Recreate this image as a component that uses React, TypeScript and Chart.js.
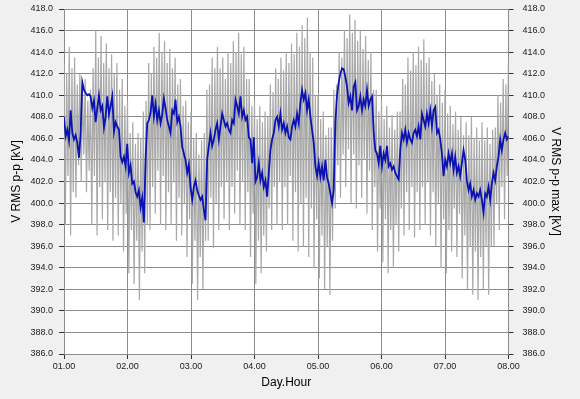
import React, { useEffect, useRef } from 'react';
import { Chart, registerables } from 'chart.js';

Chart.register(...registerables);

const xTickLabels = ['01.00', '02.00', '03.00', '04.00', '05.00', '06.00', '07.00', '08.00'];

// V RMS p-p (blue), evenly spaced from 01.00 to 08.00
const blueValues = [
  408.0, 406.2, 406.8, 405.8, 408.6, 406.5, 405.9, 406.3, 405.6, 404.2,
  406.5, 411.2, 410.5, 410.2, 410.0, 410.1, 409.9, 408.8, 409.5, 407.5,
  408.8, 410.0, 408.6, 409.0, 407.0, 408.0, 409.9, 408.2, 409.0, 409.9,
  406.6, 407.5, 407.1, 406.8, 404.3, 403.8, 404.3, 403.4, 405.5, 402.8,
  403.5, 401.8, 402.0, 401.0, 400.6, 401.2, 399.6, 400.5, 398.2, 404.0,
  407.4, 407.7, 408.4, 410.0, 408.0, 409.2, 407.7, 408.6, 407.4, 408.2,
  409.7, 408.8, 407.7, 407.1, 406.5, 408.6, 408.3, 409.6, 407.5, 408.0,
  407.1, 405.2, 404.6, 404.0, 402.8, 403.6, 401.5, 400.3, 401.5, 402.1,
  401.2, 400.7, 400.3,
  400.6, 399.4, 398.4, 404.0, 405.3, 406.5, 405.3, 405.9, 406.8, 407.4,
  405.9, 407.1, 408.3, 407.7, 407.1, 407.4, 406.8, 406.5, 407.7, 407.4,
  409.6, 409.0, 408.3, 409.9, 408.0, 408.6, 407.7, 408.0, 406.1, 405.9,
  403.7, 406.1, 402.0, 402.4, 403.7, 402.1, 402.8, 401.5, 402.1, 400.6,
  402.8, 404.9, 405.9, 406.5, 407.7, 408.0, 407.1, 408.3, 406.8, 407.4,
  406.5, 407.1, 406.1, 405.9, 407.1, 407.7, 407.1, 408.3, 407.4, 409.3,
  410.5, 409.6, 410.2, 408.6, 409.6, 408.0, 406.8, 405.6, 403.4, 402.5,
  403.7, 402.4, 403.4, 402.1, 404.0, 402.4, 401.8, 400.9, 400.0, 401.2,
  407.5, 410.0, 411.2, 412.0, 412.5, 412.4, 411.7, 410.8, 409.3, 409.9,
  408.6, 410.8, 411.2, 408.6, 409.0,
  409.9, 408.6, 409.6, 409.0, 410.5, 409.0, 409.6, 409.9, 406.6, 404.9,
  404.6, 403.7, 405.3, 403.4, 404.6, 404.0, 405.3, 403.4, 403.7, 403.1,
  403.4, 402.8, 402.5, 402.2, 404.9, 406.5, 405.9, 406.8, 405.6, 406.5,
  405.9, 405.6, 406.5, 406.8, 406.2, 407.1, 405.9, 408.3, 407.7, 407.1,
  408.3, 407.4, 408.6, 407.1, 408.6, 408.9, 406.5, 406.8, 405.9, 404.6,
  402.5, 404.0, 403.4, 404.6, 403.7, 404.6, 403.1, 404.3, 402.8, 403.4,
  402.5, 403.7, 404.9, 404.0, 402.1, 401.2, 401.8, 400.6, 401.2, 400.3,
  400.9, 400.6, 401.2, 400.3, 399.1, 400.9, 400.6, 401.5, 400.3, 401.8,
  402.8, 402.1, 403.4, 404.3, 405.9, 404.9, 405.9, 406.5, 405.9, 406.2,
];

// V RMS p-p max (grey): peaks at each whole hour 0..168
const grayHigh = [
  413.0, 412.0, 414.5, 412.5, 413.5, 411.0, 412.0, 410.5, 411.5, 409.5,
  410.5, 412.5, 416.0, 413.5, 415.5, 413.0, 414.8, 412.5, 413.8, 412.0,
  413.0, 410.5, 411.5, 409.0, 409.5, 406.5, 407.5, 405.5, 406.5, 406.0,
  408.5, 409.5, 413.0, 412.0, 414.5, 413.5, 415.8, 414.0, 415.0, 413.0,
  414.3, 412.5, 413.5, 411.0, 411.5, 409.0, 409.5, 407.5, 408.5, 406.0,
  406.5, 404.5, 405.8, 406.5, 410.5, 411.0, 413.5, 412.5, 414.5, 412.5,
  413.5, 411.5, 414.0, 413.0, 415.0, 414.0, 415.8, 413.8, 414.5, 411.5,
  411.5, 409.0, 409.5, 407.8, 409.0, 407.5, 408.5, 408.0, 411.0, 410.3,
  412.5, 411.5, 413.5, 412.3, 414.0, 413.0, 414.8, 413.8, 415.8, 414.5,
  416.5, 415.3, 417.2, 414.0, 413.5, 410.0, 410.0, 407.8, 408.5, 406.3,
  407.0, 407.0, 410.5, 411.0, 414.0, 413.5, 416.0, 415.3, 417.5, 415.8,
  417.0, 415.0, 416.0, 414.3, 415.5, 413.3, 414.0, 410.5, 410.5, 408.5,
  409.5, 407.8, 409.0, 407.0, 408.2, 406.8, 408.5, 408.5, 411.5, 411.0,
  413.5, 412.3, 414.0, 412.8, 414.5, 413.3, 415.2, 413.0, 413.5, 411.3,
  412.0, 410.0, 411.0, 409.3, 410.5, 408.3, 409.0, 407.3, 408.5, 406.8,
  408.0, 406.3, 407.5, 406.3, 408.0, 406.0, 407.0, 405.8, 407.5, 405.8,
  407.0, 405.5, 406.8, 407.0, 410.0, 409.3, 411.5, 411.0, 413.5,
];
// V RMS p-p max (grey): dips at each half hour 0.5..167.5
const grayLow = [
  398.0, 402.5, 397.0, 401.0, 400.5, 403.5, 402.0, 404.5, 401.0, 403.0,
  398.0, 402.5, 397.0, 401.5, 398.5, 402.0, 397.5, 401.0, 396.5, 400.5,
  397.0, 400.0, 395.5, 399.0, 393.5, 397.5, 392.5, 396.5, 391.0, 395.5,
  393.5, 398.0, 397.5, 401.5, 399.0, 403.0, 398.0, 402.5, 397.5, 401.0,
  398.0, 402.0, 396.5, 400.5, 397.0, 400.0, 395.0, 398.5, 392.5, 396.5,
  391.0, 395.0, 392.0, 396.5, 396.5, 400.5, 395.8, 400.0, 397.5, 401.5,
  398.5, 402.0, 397.5, 401.5, 399.0, 403.0, 398.0, 402.0, 397.5, 401.0,
  395.0, 399.0, 392.5, 396.5, 393.5, 397.0, 395.5, 399.5, 397.5, 401.5,
  398.0, 402.0, 397.5, 401.5, 398.0, 402.5, 396.5, 401.0, 395.5, 400.0,
  396.0, 400.5, 395.0, 399.5, 394.0, 398.5, 393.0, 397.0, 392.0, 396.0,
  391.5, 396.5, 399.5, 403.5, 400.5, 404.5, 401.5, 405.0, 400.0, 404.5,
  399.5, 403.5, 400.5, 404.0, 399.0, 403.0, 397.5, 401.5, 395.5, 399.5,
  394.5, 398.5, 393.5, 397.5, 394.0, 398.0, 395.5, 399.5, 397.0, 401.0,
  397.5, 401.5, 396.8, 401.0, 397.5, 401.5, 398.0, 402.0, 397.0, 401.0,
  396.0, 400.0, 394.0, 398.5, 393.5, 397.5, 395.5, 399.5, 395.0, 399.0,
  393.0, 397.0, 392.0, 396.0, 391.5, 395.5, 391.0, 395.0, 392.0, 396.0,
  391.5, 396.0, 396.0, 400.0, 397.5, 401.5, 398.5, 402.5,
];

const yMin = 386;
const yMax = 418;
const yStep = 2;
const hoursTotal = 168;

export default function App() {
  const ref = useRef<HTMLCanvasElement>(null);

  useEffect(() => {
    document.body.style.margin = '0';
    document.body.style.background = '#f0f0f0';
    const n = blueValues.length;
    const blueData = blueValues.map((v, i) => ({ x: (i * hoursTotal) / (n - 1), y: v }));
    const grayData: { x: number; y: number }[] = [];
    grayHigh.forEach((v, i) => {
      grayData.push({ x: i, y: v });
      if (i < grayLow.length) grayData.push({ x: i + 0.5, y: grayLow[i] });
    });

    const tickFont = { family: '"Liberation Sans", Arial, sans-serif', size: 9 };
    const titleFont = { family: '"Liberation Sans", Arial, sans-serif', size: 12 };
    const gridColor = '#8c8c8c';
    const tickColor = '#303030';
    const labelColor = '#202020';
    const plotTop = 9;

    const bgPlugin = {
      id: 'plotBg',
      afterLayout(chart: any) {
        const a = chart.chartArea;
        a.top = plotTop;
        a.height = a.bottom - plotTop;
        ['y', 'y2'].forEach((id) => {
          const s = chart.scales[id];
          s.top = plotTop;
          s.height = s.bottom - plotTop;
          s.configure();
        });
      },
      beforeDraw(chart: any) {
        const { ctx, chartArea: a } = chart;
        ctx.save();
        ctx.fillStyle = '#f0f0f0';
        ctx.fillRect(0, 0, chart.width, chart.height);
        ctx.fillStyle = '#ffffff';
        ctx.fillRect(a.left, a.top, a.right - a.left, a.bottom - a.top);
        ctx.restore();
      },
    };

    const yTickCb = (v: any) => Number(v).toFixed(1);

    const chart = new Chart(ref.current as HTMLCanvasElement, {
      type: 'line',
      data: {
        datasets: [
          {
            label: 'V RMS p-p',
            data: blueData,
            borderColor: '#0a12b4',
            borderWidth: 1.8,
            pointRadius: 0,
            tension: 0,
            yAxisID: 'y',
          },
          {
            label: 'V RMS p-p max',
            data: grayData,
            borderColor: '#a8a8a8',
            borderWidth: 1.2,
            pointRadius: 0,
            tension: 0,
            yAxisID: 'y2',
          },
        ],
      },
      options: {
        animation: false,
        responsive: false,
        maintainAspectRatio: false,
        layout: { padding: { top: 3, left: 0, right: 0, bottom: 0 } },
        plugins: { legend: { display: false }, tooltip: { enabled: false } },
        scales: {
          x: {
            type: 'linear',
            min: 0,
            max: hoursTotal,
            ticks: {
              stepSize: 24,
              callback: (v: any) => xTickLabels[Math.round(Number(v) / 24)],
              font: tickFont,
              color: labelColor,
              padding: 2,
              maxRotation: 0,
              autoSkip: false,
            },
            grid: { color: gridColor, tickColor, tickLength: 5 },
            border: { color: gridColor },
            title: { display: true, text: 'Day.Hour', font: titleFont, color: '#000', padding: { top: 0, bottom: 9 } },
            afterFit: (s: any) => {
              s.height = 45;
            },
          },
          y: {
            type: 'linear',
            position: 'left',
            min: yMin,
            max: yMax,
            ticks: { stepSize: yStep, callback: yTickCb, font: tickFont, color: labelColor, padding: 6 },
            grid: { color: gridColor, tickColor, tickLength: 5 },
            border: { color: gridColor },
            title: { display: true, text: 'V RMS p-p [kV]', font: titleFont, color: '#000', padding: { top: 9, bottom: 0 } },
            afterFit: (s: any) => {
              s.width = 64;
            },
          },
          y2: {
            type: 'linear',
            position: 'right',
            min: yMin,
            max: yMax,
            ticks: { stepSize: yStep, callback: yTickCb, font: tickFont, color: labelColor, padding: 9 },
            grid: { drawOnChartArea: false, color: gridColor, tickColor, tickLength: 5 },
            border: { color: gridColor },
            title: { display: true, text: 'V RMS p-p max [kV]', font: titleFont, color: '#000', padding: { top: 17, bottom: 0 } },
            afterFit: (s: any) => {
              s.width = 71.5;
            },
          },
        },
      },
      plugins: [bgPlugin],
    });
    return () => chart.destroy();
  }, []);

  return (
    <div style={{ width: 580, height: 399, background: '#f0f0f0' }}>
      <canvas ref={ref} width={580} height={399} style={{ display: 'block' }} />
    </div>
  );
}
